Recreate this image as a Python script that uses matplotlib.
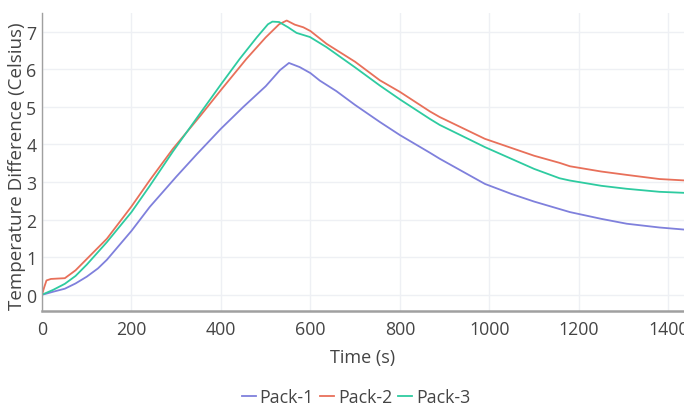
import matplotlib
matplotlib.use("Agg")
import matplotlib.pyplot as plt
from matplotlib.lines import Line2D

plt.rcParams['font.family'] = ['Open Sans', 'DejaVu Sans']

# Pack-1 (purple)
t1 = [0, 10, 25, 51, 75, 100, 125, 145, 200, 241, 300, 346, 400, 450, 500, 532, 552,
      576, 600, 621, 658, 700, 755, 800, 867, 889, 990, 1050, 1100, 1180, 1250, 1307, 1380, 1440]
y1 = [0, 0.03, 0.08, 0.16, 0.30, 0.48, 0.70, 0.93, 1.70, 2.34, 3.14, 3.74, 4.42, 5.00, 5.55, 5.98, 6.17,
      6.06, 5.90, 5.70, 5.42, 5.05, 4.60, 4.25, 3.78, 3.62, 2.95, 2.68, 2.48, 2.20, 2.02, 1.89, 1.79, 1.73]

# Pack-2 (red)
t2 = [0, 5, 10, 20, 35, 51, 75, 100, 145, 200, 241, 293, 353, 400, 457, 500, 530, 547,
      565, 584, 600, 636, 700, 755, 800, 867, 889, 990, 1100, 1157, 1180, 1250, 1307, 1380, 1440]
y2 = [0, 0.20, 0.38, 0.42, 0.43, 0.44, 0.65, 0.95, 1.49, 2.35, 3.05, 3.89, 4.75, 5.45, 6.28, 6.85, 7.20, 7.30,
      7.19, 7.12, 7.02, 6.68, 6.20, 5.71, 5.40, 4.88, 4.73, 4.15, 3.70, 3.51, 3.42, 3.28, 3.19, 3.08, 3.04]

# Pack-3 (green)
t3 = [0, 25, 51, 75, 100, 145, 200, 241, 293, 353, 400, 442, 480, 505, 515, 530, 550,
      569, 599, 636, 700, 755, 800, 867, 889, 990, 1100, 1157, 1180, 1250, 1307, 1380, 1440]
y3 = [0, 0.13, 0.29, 0.50, 0.80, 1.40, 2.20, 2.90, 3.82, 4.82, 5.60, 6.28, 6.85, 7.20, 7.27, 7.26, 7.12,
      6.97, 6.86, 6.59, 6.05, 5.57, 5.20, 4.68, 4.52, 3.93, 3.35, 3.10, 3.04, 2.90, 2.82, 2.74, 2.71]

names = ["Pack-1", "Pack-2", "Pack-3"]
colors = ["#7f80dc", "#e8705a", "#2ecba0"]
xticks = [0, 200, 400, 600, 800, 1000, 1200, 1400]
yticks = [0, 1, 2, 3, 4, 5, 6, 7]

fig = plt.figure(figsize=(6.84, 4.10), dpi=100)
ax = fig.add_axes([42/684, (410-311.5)/410, 1 - 42/684, (311.5-14)/410])

for t, y, c, n in zip([t1, t2, t3], [y1, y2, y3], colors, names):
    ax.plot(t, y, color=c, lw=1.3, label=n)

ax.set_xlim(0, 1435)
ax.set_ylim(-0.42, 7.5)
ax.set_xticks(xticks)
ax.set_yticks(yticks)
ax.grid(True, color="#eef0f4", lw=1)
ax.set_axisbelow(True)
for s in ["top", "right"]:
    ax.spines[s].set_visible(False)
ax.spines["bottom"].set_color("#a0a0a0")
ax.spines["bottom"].set_linewidth(1.8)
ax.spines["left"].set_color("#a0a0a0")
ax.spines["left"].set_linewidth(1.0)
ax.tick_params(axis="both", length=0, labelsize=12.8, labelcolor="#444444")
ax.tick_params(axis="x", pad=7)
ax.tick_params(axis="y", pad=4)
ax.set_xlabel("Time (s)", fontsize=13, color="#444444", labelpad=7)
ax.set_ylabel("Temperature Difference (Celsius)", fontsize=13.5, color="#444444")
ax.yaxis.set_label_coords(-(42 - 26) / (684 - 42), 0.49)

handles = [Line2D([0], [0], color=c, lw=1.3) for c in colors]
fig.legend(handles, names, loc="center", bbox_to_anchor=(356/684, 1 - 398/410), ncol=3,
           frameon=False, fontsize=12.8, handlelength=0.8, handletextpad=0.2, columnspacing=0.35,
           labelcolor="#444444")

fig.savefig("out.png", dpi=100)
